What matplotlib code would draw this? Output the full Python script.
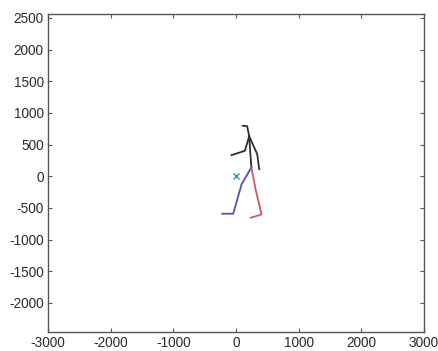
import matplotlib
matplotlib.use("Agg")
import matplotlib.pyplot as plt

# Skeleton joints (data coords)
body_x = [107, 180, 212, 247]
body_y = [798, 789, 630, 138]
left_arm_x = [212, 144, -69]
left_arm_y = [630, 402, 333]
right_arm_x = [212, 340, 372]
right_arm_y = [630, 349, 111]
blue_leg_x = [247, 91, -43, -219]
blue_leg_y = [138, -127, -592, -592]
red_leg_x = [247, 314, 410, 239]
red_leg_y = [138, -206, -603, -655]
root_x = [0]
root_y = [0]

xticks = [-3000, -2000, -1000, 0, 1000, 2000, 3000]
yticks = [-2000, -1500, -1000, -500, 0, 500, 1000, 1500, 2000, 2500]

plt.rcParams['font.family'] = ['Liberation Sans', 'DejaVu Sans']
plt.rcParams['axes.unicode_minus'] = False
fig = plt.figure(figsize=(4.38, 3.51), dpi=100)
ax = fig.add_axes([0.1096, 0.054, 0.858, 0.906])

black = '#2e2e2e'
ax.plot(body_x, body_y, color=black, lw=1.3, solid_capstyle='round')
ax.plot(left_arm_x, left_arm_y, color=black, lw=1.3)
ax.plot(right_arm_x, right_arm_y, color=black, lw=1.3)
ax.plot(blue_leg_x, blue_leg_y, color='#5050bb', lw=1.3)
ax.plot(red_leg_x, red_leg_y, color='#d05566', lw=1.3)
ax.plot(root_x, root_y, 'x', color='#3a8fa8', ms=4, mew=1)

ax.set_xlim(-3000, 3000)
ax.set_ylim(-2460, 2560)
ax.set_xticks(xticks)
ax.set_yticks(yticks)
ax.tick_params(direction='in', length=3, width=0.8, colors='#555555',
               labelcolor='#2a2a2a', labelsize=9.8, top=True, right=True, pad=3)
for s in ax.spines.values():
    s.set_color('#555555')
    s.set_linewidth(1.0)

fig.savefig('out.png', dpi=100)
